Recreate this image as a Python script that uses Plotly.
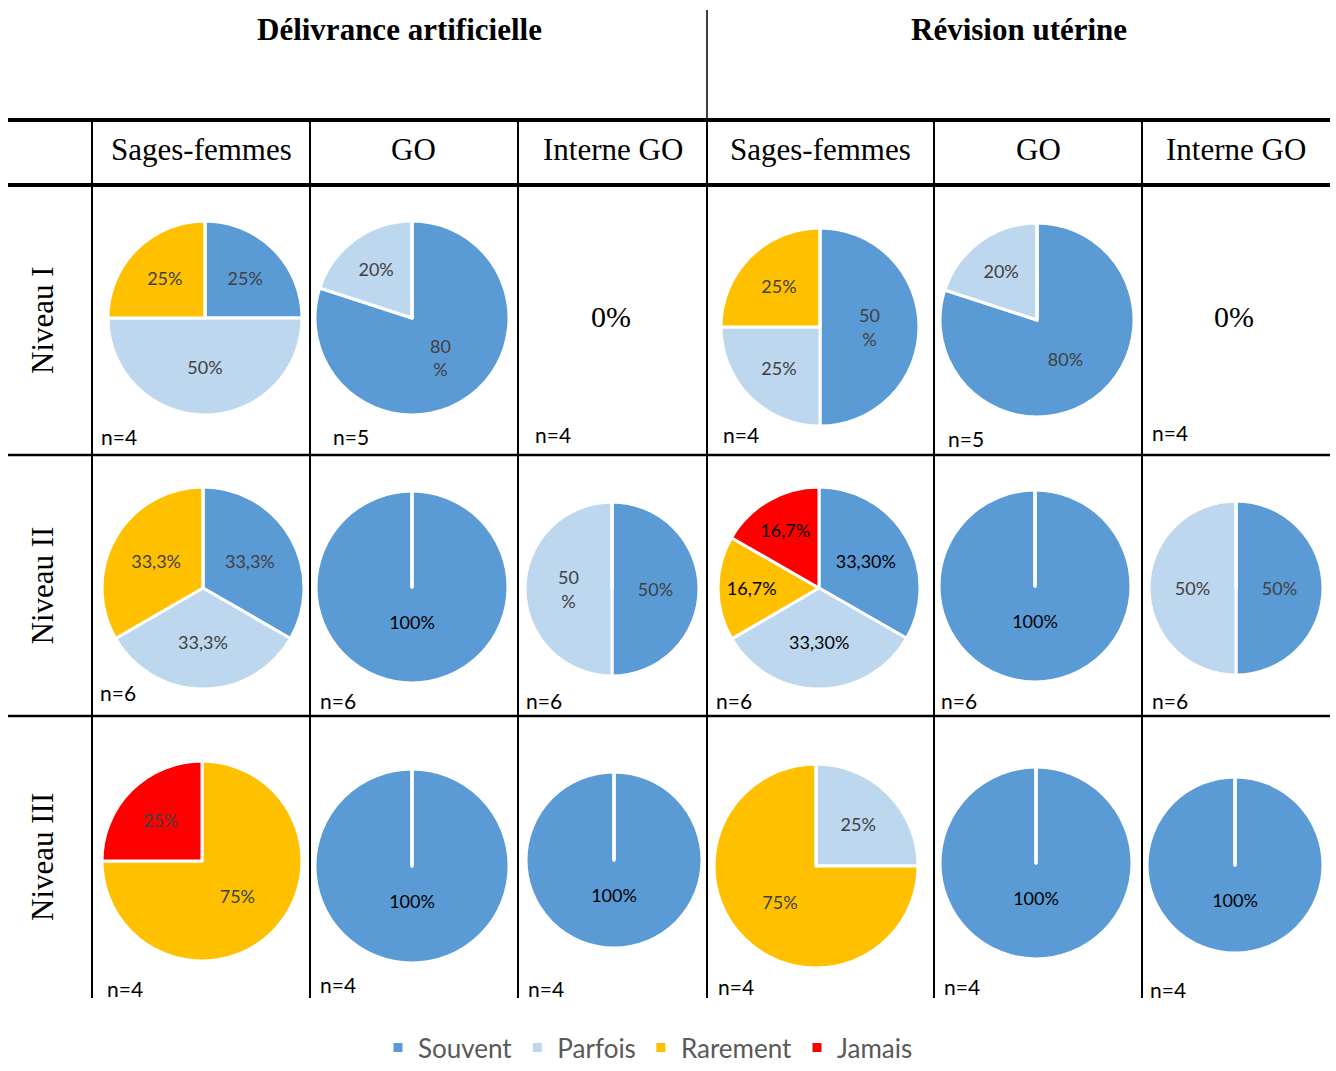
import plotly.graph_objects as go

W, H = 1336, 1071

# ---------------- data ----------------
CATEGORIES = ["Souvent", "Parfois", "Rarement", "Jamais"]
GROUPS = ["Délivrance artificielle", "Révision utérine"]
PROFESSIONS = ["Sages-femmes", "GO", "Interne GO"]
LEVELS = ["Niveau I", "Niveau II", "Niveau III"]

# percentages per category [Souvent, Parfois, Rarement, Jamais]; None -> "0%" cell
# column order: DA Sages-femmes, DA GO, DA Interne GO, RU Sages-femmes, RU GO, RU Interne GO
niveau1_values = [[25, 50, 25, 0], [80, 20, 0, 0], None, [50, 25, 25, 0], [80, 20, 0, 0], None]
niveau2_values = [[33.3, 33.3, 33.3, 0], [100, 0, 0, 0], [50, 50, 0, 0],
                  [33.3, 33.3, 16.7, 16.7], [100, 0, 0, 0], [50, 50, 0, 0]]
niveau3_values = [[0, 0, 75, 25], [100, 0, 0, 0], [100, 0, 0, 0],
                  [0, 25, 75, 0], [100, 0, 0, 0], [100, 0, 0, 0]]

niveau1_labels = [["25%", "50%", "25%", ""], ["80<br>%", "20%", "", ""], None,
                  ["50<br>%", "25%", "25%", ""], ["80%", "20%", "", ""], None]
niveau2_labels = [["33,3%", "33,3%", "33,3%", ""], ["100%", "", "", ""], ["50%", "50<br>%", "", ""],
                  ["33,30%", "33,30%", "16,7%", "16,7%"], ["100%", "", "", ""], ["50%", "50%", "", ""]]
niveau3_labels = [["", "", "75%", "25%"], ["100%", "", "", ""], ["100%", "", "", ""],
                  ["", "25%", "75%", ""], ["100%", "", "", ""], ["100%", "", "", ""]]

niveau1_n = [4, 5, 4, 4, 5, 4]
niveau2_n = [6, 6, 6, 6, 6, 6]
niveau3_n = [4, 4, 4, 4, 4, 4]

# ---------------- styles / layout ----------------
COLORS = ["#5B9BD5", "#BDD7EE", "#FFC000", "#FF0000"]
GRAY = "#404040"
BLACK = "#000000"
SANS = "Lato"
SERIF = "Liberation Serif"

col_lines = [92, 310, 518, 707, 934, 1142]
col_right = 1330
row_lines = [185, 455, 716]
table_bottom = 998

# pie geometry (cx, cy, r) per row per column, page pixels
pie_geom = [
    [(205, 318, 97), (412, 318, 97), None, (820, 327, 99), (1037, 320, 97), None],
    [(203, 588, 101), (412, 587, 96), (612, 589, 87), (819, 588, 101), (1035, 586, 96), (1236, 588, 87)],
    [(202, 861, 100), (412, 866, 97), (614, 860, 88), (816, 866, 102), (1036, 863, 96), (1235, 865, 88)],
]
label_dark = [
    [False, False, False, False, False, False],
    [False, True, False, True, True, False],
    [False, True, True, False, True, True],
]
n_pos = [
    [(99, 436), (331, 436), (533, 434), (721, 434), (946, 438), (1150, 432)],
    [(98, 692), (318, 700), (524, 700), (714, 700), (939, 700), (1150, 700)],
    [(105, 988), (318, 984), (526, 988), (716, 986), (942, 987), (1148, 989)],
]


def px(x):
    return x / W


def py(y):
    return 1 - y / H


NB = "\u00a0"


def label_text(s):
    # single full slice: label sits below the centre, like the original
    return f"{NB}<br>{NB}<br>{NB}<br>" + s if s == "100%" else s


all_values = [niveau1_values, niveau2_values, niveau3_values]
all_labels = [niveau1_labels, niveau2_labels, niveau3_labels]
all_n = [niveau1_n, niveau2_n, niveau3_n]

fig = go.Figure()
annotations = []
first = True
for ri in range(3):
    for ci in range(6):
        vals = all_values[ri][ci]
        g = pie_geom[ri][ci]
        if vals is not None:
            cx, cy, r = g
            col = BLACK if label_dark[ri][ci] else GRAY
            fig.add_trace(go.Pie(
                values=vals,
                labels=CATEGORIES,
                text=[label_text(s) for s in all_labels[ri][ci]],
                textinfo="text",
                textposition="inside",
                insidetextorientation="horizontal",
                insidetextfont=dict(family=SANS, size=18, color=col),
                marker=dict(colors=COLORS, line=dict(color="white", width=3)),
                sort=False,
                direction="clockwise",
                rotation=0,
                domain=dict(x=[px(cx - r), px(cx + r)], y=[py(cy + r), py(cy - r)]),
                showlegend=first,
                hoverinfo="label+percent",
            ))
            first = False
        else:
            cx = (col_lines[ci] + (col_lines[ci + 1] if ci < 5 else col_right)) / 2
            cy = (row_lines[ri] + row_lines[ri + 1]) / 2
            annotations.append(dict(text="0%", x=px(cx - 2), y=py(cy - 4), xref="paper", yref="paper",
                                    xanchor="center", yanchor="middle",
                                    showarrow=False, font=dict(family=SERIF, size=30, color=BLACK)))
        nx, ny = n_pos[ri][ci]
        annotations.append(dict(text=f"n={all_n[ri][ci]}", x=px(nx), y=py(ny), xref="paper", yref="paper",
                                xanchor="left", yanchor="middle", showarrow=False,
                                font=dict(family=SANS, size=21, color=BLACK)))

# group titles
group_centers = [(col_lines[0] + col_lines[3]) / 2, (col_lines[3] + col_right) / 2]
for gname, gx in zip(GROUPS, group_centers):
    annotations.append(dict(text=f"<b>{gname}</b>", x=px(gx), y=py(29), xref="paper", yref="paper",
                            xanchor="center", yanchor="middle",
                            showarrow=False, font=dict(family=SERIF, size=31, color=BLACK)))

# column headers
bounds = col_lines + [col_right]
for ci in range(6):
    cx = (bounds[ci] + bounds[ci + 1]) / 2
    annotations.append(dict(text=PROFESSIONS[ci % 3], x=px(cx), y=py(150), xref="paper", yref="paper",
                            xanchor="center", yanchor="middle",
                            showarrow=False, font=dict(family=SERIF, size=31, color=BLACK)))

# row labels
row_bounds = row_lines + [table_bottom]
for ri in range(3):
    cy = (row_bounds[ri] + row_bounds[ri + 1]) / 2
    annotations.append(dict(text=LEVELS[ri], x=px(42), y=py(cy), xref="paper", yref="paper",
                            xanchor="center", yanchor="middle",
                            showarrow=False, textangle=-90, font=dict(family=SERIF, size=31, color=BLACK)))

shapes = []


def hline(y, x0, x1, w):
    shapes.append(dict(type="line", xref="paper", yref="paper", x0=px(x0), x1=px(x1), y0=py(y), y1=py(y),
                       line=dict(color="black", width=w)))


def vline(x, y0, y1, w):
    shapes.append(dict(type="line", xref="paper", yref="paper", x0=px(x), x1=px(x), y0=py(y0), y1=py(y1),
                       line=dict(color="black", width=w)))


hline(120, 8, col_right, 4)
hline(185, 8, col_right, 4)
hline(455, 8, col_right, 2.5)
hline(716, 8, col_right, 2.5)
vline(707, 10, 120, 1.5)
for x in col_lines:
    vline(x, 120, table_bottom, 2)

fig.update_layout(
    width=W, height=H,
    margin=dict(l=0, r=0, t=0, b=0),
    paper_bgcolor="white",
    plot_bgcolor="white",
    annotations=annotations,
    shapes=shapes,
    legend=dict(orientation="h", x=px(648), xanchor="center", y=0, yanchor="bottom",
                font=dict(family=SANS, size=26, color="#595959"), traceorder="normal"),
)

fig.write_html(
    "out.html",
    config={"displayModeBar": False},
    post_script="document.body.style.margin='0';document.documentElement.style.overflow='hidden';"
                "document.body.style.overflow='hidden';",
)
